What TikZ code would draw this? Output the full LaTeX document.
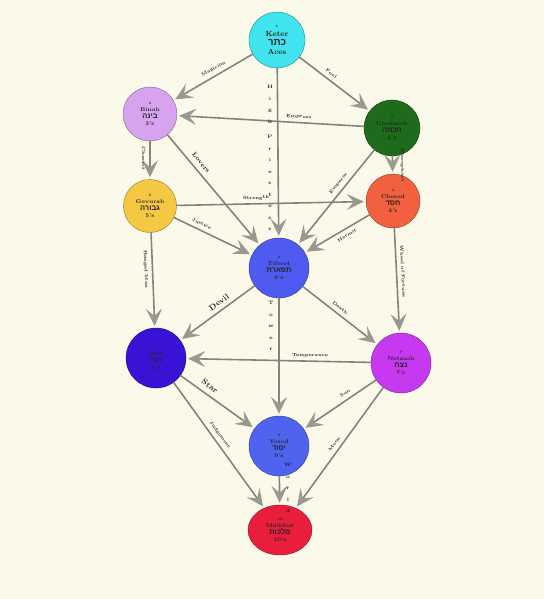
\documentclass[tikz,border=0pt]{standalone}
\usepackage{fontspec}
\usepackage{tikz}
\usetikzlibrary{arrows.meta,shapes.geometric}
\newfontfamily\hebfont[Script=Hebrew]{Liberation Sans}
\TeXXeTstate=1
\newcommand{\sefnum}{\fontsize{3.5}{4}\selectfont}
\newcommand{\heb}[1]{{\hebfont\bfseries\fontsize{7.5}{8}\selectfont\beginR #1\endR}}

\begin{document}
\begin{tikzpicture}
		[x=1pt,y=-1pt,line cap=round,
		%Styles
		sephira/.style={circle,fill=#1,draw=#1!60!black,thin,inner sep=0pt,minimum size=56pt,align=center,text=black!85,font=\bfseries\fontsize{5.5}{7}\selectfont},
		card path/.style={draw=pathgray,line width=1.6pt,-{Stealth[length=17pt,width=16pt,inset=7pt,color=arrowgray]},shorten >=2pt},
		card/.style={sloped,inner sep=1pt,text=black!85,font=\bfseries\fontsize{4.5}{5}\selectfont},
		big card/.style={card,font=\bfseries\fontsize{8}{8}\selectfont},
		stacked/.style={align=center,inner sep=1pt,text=black!85,font=\bfseries\fontsize{5}{11.5}\selectfont}
		]
		
		%Colors
		\definecolor{bgcream}{HTML}{FBFAEA}
		\definecolor{pathgray}{HTML}{85847C}
		\definecolor{arrowgray}{HTML}{9A9990}
		\definecolor{ketercol}{HTML}{3FE4EE}
		\definecolor{binahcol}{HTML}{D7A2EE}
		\definecolor{chokmahcol}{HTML}{1E6B1E}
		\definecolor{gevurahcol}{HTML}{F5C843}
		\definecolor{chesedcol}{HTML}{F2603F}
		\definecolor{tiferetcol}{HTML}{4F5BF0}
		\definecolor{hodcol}{HTML}{3A12D6}
		\definecolor{netzachcol}{HTML}{C639F0}
		\definecolor{yesodcol}{HTML}{4E63EE}
		\definecolor{malkuthcol}{HTML}{E81E3C}
		
		\fill[bgcream] (0,0) rectangle (544,599);
		\useasboundingbox (0,0) rectangle (544,599);
		
		%The sephirot
		\node[sephira=ketercol,font=\bfseries\fontsize{7.5}{9}\selectfont] (keter) at (277,40)
			{{\sefnum 1}\\Keter\\{\hebfont\bfseries\fontsize{10}{10}\selectfont\beginR כתר\endR}\\Aces};
		\node[sephira=chokmahcol] (chokmah) at (392,128)
			{{\sefnum 2}\\Chokmah\\\heb{חכמה}\\2's};
		\node[sephira=binahcol,minimum size=54pt] (binah) at (150,114)
			{{\sefnum 3}\\Binah\\\heb{בינה}\\3's};
		\node[sephira=chesedcol,minimum size=54pt] (chesed) at (393,201)
			{{\sefnum 4}\\Chesed\\\heb{חסד}\\4's};
		\node[sephira=gevurahcol,minimum size=53pt] (gevurah) at (150,206)
			{{\sefnum 5}\\Gevurah\\\heb{גבורה}\\5's};
		\node[sephira=tiferetcol,minimum size=60pt] (tiferet) at (279,268)
			{{\sefnum 6}\\Tiferet\\\heb{תפארת}\\6's};
		\node[sephira=netzachcol,minimum size=60pt] (netzach) at (401,363)
			{{\sefnum 7}\\Netzach\\\heb{נצח}\\7's};
		\node[sephira=hodcol,minimum size=60pt] (hod) at (156,358)
			{{\sefnum 8}\\Hod\\\heb{הוד}\\8's};
		\node[sephira=yesodcol,minimum size=60pt] (yesod) at (279,446)
			{{\sefnum 9}\\Yesod\\\heb{יסוד}\\9's};
		\node[sephira=malkuthcol,ellipse,minimum width=64pt,minimum height=50pt] (malkuth) at (280,530)
			{{\sefnum 10}\\Malkhut\\\heb{מלכות}\\10's};
		
		%The paths
		\draw[card path] (keter) -- node[card,above=3pt,pos=0.45] (magician) {Magician} (binah);
		\draw[card path] (keter) -- node[card,above=3pt,pos=0.4] (fool) {Fool} (chokmah);
		\draw[card path] (keter) -- (tiferet);
		\draw[card path] (chokmah) -- node[card,above=2pt,pos=0.35] (empress) {Empress} (binah);
		\draw[card path] (chokmah) -- node[card,above=3pt,pos=0.4] (emperor) {Emperor} (tiferet);
		\draw[card path] (chokmah) -- node[card,above=6pt,pos=0.5] (hierophant) {Hierophant} (chesed);
		\draw[card path] (binah) -- node[card,above=4pt,pos=0.3,font=\bfseries\fontsize{6.5}{7}\selectfont] (lovers) {Lovers} (tiferet);
		\draw[card path] (binah) -- node[card,below=3pt,pos=0.45] (chariot) {Chariot} (gevurah);
		\draw[card path] (gevurah) -- node[card,above=2pt,pos=0.42] (strength) {Strength} (chesed);
		\draw[card path] (gevurah) -- node[card,above=3pt,pos=0.32] (justice) {Justice} (tiferet);
		\draw[card path] (chesed) -- node[card,below=3pt,pos=0.4] (hermit) {Hermit} (tiferet);
		\draw[card path] (chesed) -- node[card,above=3pt,pos=0.42] (wheel) {Wheel of Fortune} (netzach);
		\draw[card path] (gevurah) -- node[card,below=3pt,pos=0.38] (hanged) {Hanged Man} (hod);
		\draw[card path] (tiferet) -- node[big card,above=3pt,pos=0.42] (devil) {Devil} (hod);
		\draw[card path] (tiferet) -- node[card,above=3pt,pos=0.45] (death) {Death} (netzach);
		\draw[card path] (tiferet) -- (yesod);
		\draw[card path] (netzach) -- node[card,above=2pt,pos=0.33] (temperance) {Temperance} (hod);
		\draw[card path] (hod) -- node[big card,above=4pt,pos=0.33] (star) {Star} (yesod);
		\draw[card path] (netzach) -- node[card,above=3pt,pos=0.38] (sun) {Sun} (yesod);
		\draw[card path] (hod) -- node[card,above=3pt,pos=0.45] (judgement) {Judgement} (malkuth);
		\draw[card path] (netzach) -- node[card,above=3pt,pos=0.5] (moon) {Moon} (malkuth);
		\draw[card path] (yesod) -- (malkuth);
		
		%Vertical letters
		\node[stacked] (priestess) at (270,158) {H\\i\\g\\h\\[4pt]P\\r\\i\\e\\s\\t\\e\\s\\s};
		\node[stacked] (tower) at (271,326) {T\\o\\w\\e\\r};
		\node[stacked] (world) at (288,488) {W\\o\\r\\l\\d};
	\end{tikzpicture}
\end{document}
